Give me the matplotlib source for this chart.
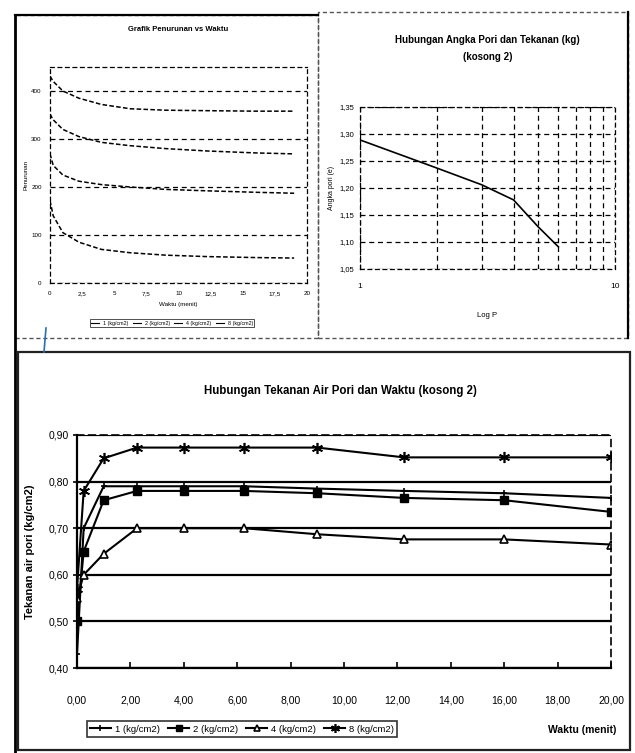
import matplotlib
matplotlib.use("Agg")
import matplotlib.pyplot as plt
from matplotlib.patches import Rectangle
from matplotlib.lines import Line2D
from matplotlib.ticker import NullFormatter

plt.rcParams['font.family'] = ['Liberation Sans', 'DejaVu Sans']

# ---------------- data ----------------
# bottom chart: pore water pressure vs time
time_min = [0, 0.25, 1, 2.25, 4, 6.25, 9, 12.25, 16, 20]
p1 = [0.43, 0.70, 0.79, 0.79, 0.79, 0.79, 0.785, 0.78, 0.775, 0.765]
p2 = [0.50, 0.65, 0.76, 0.78, 0.78, 0.78, 0.775, 0.765, 0.76, 0.735]
p4 = [0.55, 0.60, 0.645, 0.70, 0.70, 0.70, 0.687, 0.676, 0.676, 0.665]
p8 = [0.57, 0.78, 0.85, 0.873, 0.873, 0.873, 0.873, 0.852, 0.852, 0.852]
series_labels = ["1 (kg/cm2)", "2 (kg/cm2)", "4 (kg/cm2)", "8 (kg/cm2)"]
x_ticks = [0, 2, 4, 6, 8, 10, 12, 14, 16, 18, 20]
x_tick_labels = ["0,00", "2,00", "4,00", "6,00", "8,00", "10,00", "12,00",
                 "14,00", "16,00", "18,00", "20,00"]
y_ticks = [0.40, 0.50, 0.60, 0.70, 0.80, 0.90]
y_tick_labels = ["0,40", "0,50", "0,60", "0,70", "0,80", "0,90"]

# top-left chart: settlement vs time
time_top = [0, 0.25, 1, 2.25, 4, 6.25, 9, 12.25, 16, 19]
d1 = [431, 420, 400, 385, 372, 363, 360, 359, 358, 358]
d2 = [352, 340, 320, 305, 293, 286, 280, 275, 271, 269]
d3 = [269, 245, 225, 212, 205, 200, 195, 192, 189, 187]
d4 = [172, 140, 105, 85, 70, 63, 58, 55, 53, 52]
tl_xticks = [0, 2.5, 5, 7.5, 10, 12.5, 15, 17.5, 20]
tl_xtick_labels = ["0", "2,5", "5", "7,5", "10", "12,5", "15", "17,5", "20"]
tl_yticks = [0, 100, 200, 300, 400]

# top-right chart: void ratio vs log pressure
pressure = [1, 2, 3, 4, 5, 6]
void_ratio = [1.289, 1.237, 1.206, 1.178, 1.128, 1.091]
tr_yticks = [1.05, 1.10, 1.15, 1.20, 1.25, 1.30, 1.35]
tr_ytick_labels = ["1,05", "1,10", "1,15", "1,20", "1,25", "1,30", "1,35"]

W, H = 635, 753
fig = plt.figure(figsize=(W / 100, H / 100), dpi=100)
fig.patch.set_facecolor("white")


def fx(px):
    return px / W


def fy(py):
    return 1 - py / H


def axes_px(l, t, r, b):
    return [fx(l), fy(b), (r - l) / W, (b - t) / H]


# ---------------- panel borders ----------------
def rect(l, t, r, b, **kw):
    fig.add_artist(Rectangle((fx(l), fy(b)), (r - l) / W, (b - t) / H,
                             transform=fig.transFigure, fill=False, **kw))


rect(15, 15, 318, 338, edgecolor="#555555", lw=1.0, ls=(0, (3, 2)))
rect(318, 12, 628, 338, edgecolor="#555555", lw=1.0, ls=(0, (3, 2)))
rect(18, 352, 630, 750, edgecolor="#222222", lw=1.6)
fig.add_artist(Line2D([fx(15), fx(15)], [fy(15), fy(753)], transform=fig.transFigure,
                      color="black", lw=2.0))
fig.add_artist(Line2D([fx(15), fx(318)], [fy(15), fy(15)], transform=fig.transFigure,
                      color="black", lw=1.6))
fig.add_artist(Line2D([fx(628), fx(628)], [fy(12), fy(338)], transform=fig.transFigure,
                      color="black", lw=1.6))
# small blue pen stroke on the scan
fig.add_artist(Line2D([fx(46), fx(44)], [fy(328), fy(352)], transform=fig.transFigure,
                      color="#2a6fb0", lw=1.2))

# ---------------- top-left chart ----------------
ax1 = fig.add_axes(axes_px(50, 67, 307, 283))
for d in (d1, d2, d3, d4):
    ax1.plot(time_top, d, color="black", lw=1.1, ls=(0, (3, 1.5)))
ax1.set_xlim(0, 20)
ax1.set_ylim(0, 450)
ax1.set_xticks(tl_xticks)
ax1.set_xticklabels(tl_xtick_labels)
ax1.set_yticks(tl_yticks)
ax1.tick_params(labelsize=4.5, length=0, pad=6)
ax1.grid(axis="y", color="black", lw=0.9, ls=(0, (4, 3)))
for s in ax1.spines.values():
    s.set_linestyle((0, (3, 3)))
    s.set_linewidth(0.9)
ax1.set_title("Grafik Penurunan vs Waktu", fontsize=5.5, fontweight="bold", pad=26)
ax1.set_xlabel("Waktu (menit)", fontsize=4.5, labelpad=4)
ax1.set_ylabel("Penurunan", fontsize=4.5, labelpad=2)
leg1 = fig.legend([Line2D([], [], color="black", lw=0.8)] * 4, series_labels,
                  loc="center", bbox_to_anchor=(fx(172), fy(323)), ncol=4,
                  fontsize=3.8, frameon=True, fancybox=False, edgecolor="black",
                  handlelength=1.5, columnspacing=0.8, borderpad=0.2)
leg1.get_frame().set_linewidth(0.6)

# ---------------- top-right chart ----------------
ax2 = fig.add_axes(axes_px(360, 107, 615, 269))
ax2.plot(pressure, void_ratio, color="black", lw=1.2)
ax2.set_xscale("log")
ax2.set_xlim(1, 10)
ax2.set_ylim(1.05, 1.35)
ax2.set_yticks(tr_yticks)
ax2.set_yticklabels(tr_ytick_labels)
ax2.set_xticks([1, 10])
ax2.set_xticklabels(["1", "10"])
ax2.xaxis.set_minor_formatter(NullFormatter())
ax2.tick_params(axis="y", labelsize=5.5, length=0, pad=4)
ax2.tick_params(axis="x", labelsize=6, length=0, pad=10)
ax2.tick_params(which="minor", length=0)
ax2.grid(axis="y", which="major", color="black", lw=0.9, ls=(0, (4, 3)))
ax2.grid(axis="x", which="both", color="black", lw=0.9, ls=(0, (4, 3)))
for s in ax2.spines.values():
    s.set_linestyle((0, (3, 3)))
    s.set_linewidth(0.9)
ax2.set_title("Hubungan Angka Pori dan Tekanan (kg)\n(kosong 2)", fontsize=7,
              fontweight="bold", pad=34, linespacing=1.9)
ax2.set_xlabel("Log P", fontsize=5.5, labelpad=16)
ax2.set_ylabel("Angka pori (e)", fontsize=5, labelpad=3)

# ---------------- bottom chart ----------------
ax3 = fig.add_axes(axes_px(77, 435, 611, 668))
ax3.plot(time_min, p1, color="black", lw=1.5, marker="+", ms=5, mew=1.2,
         label=series_labels[0])
ax3.plot(time_min, p2, color="black", lw=1.5, marker="s", ms=6,
         mfc="black", mec="black", label=series_labels[1])
ax3.plot(time_min, p4, color="black", lw=1.5, marker="^", ms=6,
         mfc="white", mec="black", mew=1.2, label=series_labels[2])
ax3.plot(time_min, p8, color="black", lw=1.5, marker=(6, 2, 0), ms=8, mew=1.2,
         label=series_labels[3])
ax3.set_xlim(0, 20)
ax3.set_ylim(0.40, 0.90)
ax3.set_xticks(x_ticks)
ax3.set_xticklabels(x_tick_labels)
ax3.set_yticks(y_ticks)
ax3.set_yticklabels(y_tick_labels)
ax3.tick_params(axis="x", direction="in", length=4, width=1.2, labelsize=7.5, pad=20)
ax3.tick_params(axis="y", direction="out", length=3, width=1.2, labelsize=7.5, pad=3)
ax3.set_axisbelow(True)
ax3.grid(axis="y", color="black", lw=1.6)
ax3.spines["left"].set_linewidth(1.6)
ax3.spines["bottom"].set_linewidth(1.6)
for side in ("top", "right"):
    ax3.spines[side].set_linestyle((0, (4, 3)))
    ax3.spines[side].set_linewidth(1.2)
ax3.set_ylabel("Tekanan air pori (kg/cm2)", fontsize=8, fontweight="bold", labelpad=10)
fig.text(fx(340), fy(391), "Hubungan Tekanan Air Pori dan Waktu (kosong 2)",
         fontsize=8.3, fontweight="bold", ha="center", va="center")
fig.text(fx(582), fy(730), "Waktu (menit)", fontsize=7.5, fontweight="bold",
         ha="center", va="center")
leg3 = fig.legend(loc="center", bbox_to_anchor=(fx(242), fy(729)), ncol=4,
                  fontsize=6.8, frameon=True, fancybox=False, edgecolor="black",
                  handlelength=2.2, columnspacing=0.9, handletextpad=0.4,
                  borderpad=0.35, markerscale=0.8)
leg3.get_frame().set_linewidth(1.2)

fig.savefig("out.png", dpi=100, facecolor="white")
